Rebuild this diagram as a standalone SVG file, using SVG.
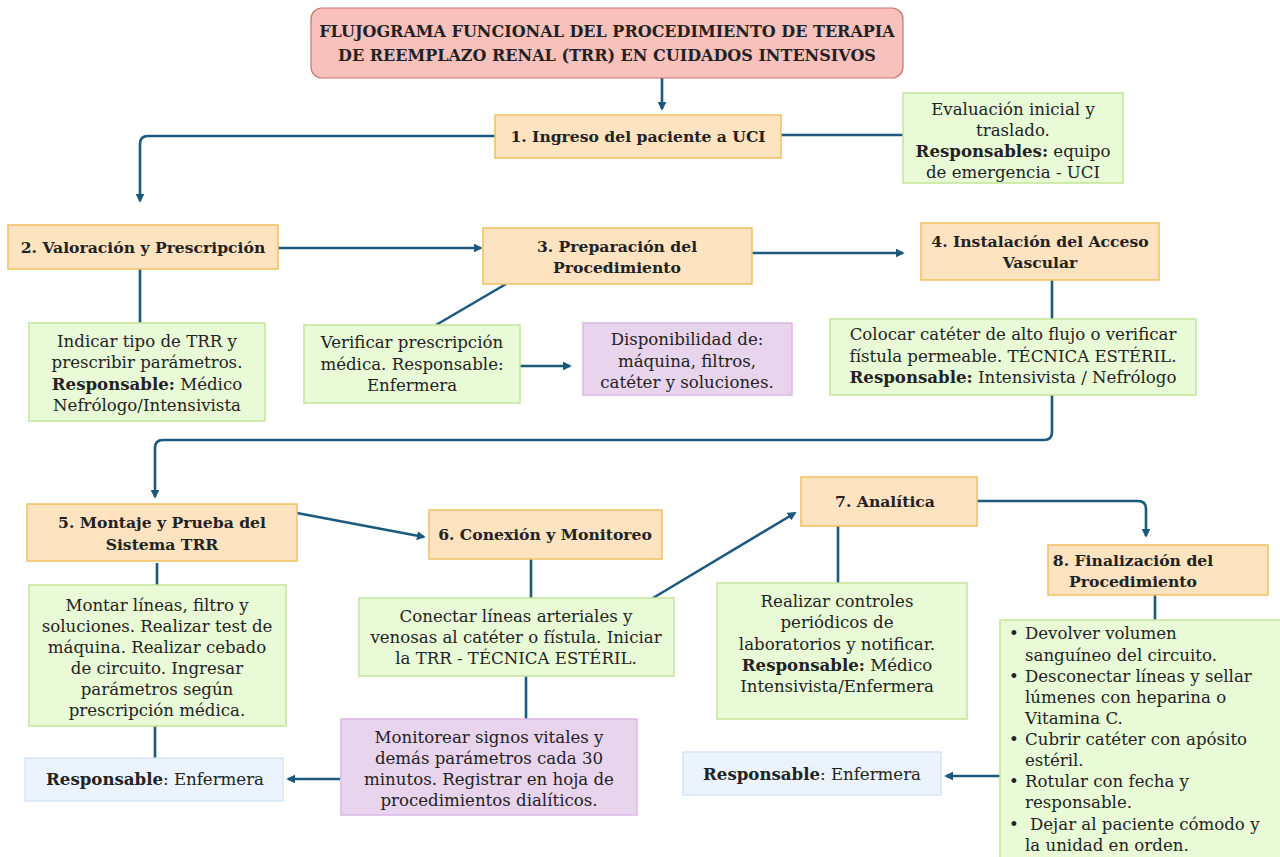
<svg xmlns="http://www.w3.org/2000/svg" width="1280" height="857" viewBox="0 0 1280 857">
  <defs>
    <marker id="arrow" viewBox="0 0 10 10" refX="8" refY="5" markerWidth="3.4" markerHeight="3.4" orient="auto">
      <path d="M0,0 L10,5 L0,10 z" fill="#1b5a7d"/>
    </marker>
    <style>
      text { font-family: "DejaVu Serif", "Liberation Serif", serif; fill: #222; }
      .h { font-size: 16px; font-weight: bold; text-anchor: middle; }
      .t { font-size: 15.6px; font-weight: bold; text-anchor: middle; }
      .b { font-size: 16.6px; text-anchor: middle; }
      .l { font-size: 16.6px; }
      .bold { font-weight: bold; }
      .title { fill: #f8c1bc; stroke: #c9736e; stroke-width: 1.2; }
      .step { fill: #fde3c0; stroke: #f0c060; stroke-width: 1.5; }
      .note { fill: #e9fbd6; stroke: #c3e59a; stroke-width: 1.5; }
      .purple { fill: #e8d4ec; stroke: #dcb8e6; stroke-width: 1.5; }
      .blue { fill: #ebf3fd; stroke: #cfe1f5; stroke-width: 1.2; }
      .conn path { fill: none; stroke: #1b5a7d; stroke-width: 2.6; }
      .conn path.a { marker-end: url(#arrow); }
    </style>
  </defs>
  <rect width="1280" height="857" fill="#ffffff"/>

  <!-- connectors -->
  <g class="conn">
    <path class="a" d="M662 78 V109"/>
    <path class="a" d="M495 136 H148 Q140 136 140 144 V201"/>
    <path d="M781 135 H903"/>
    <path class="a" d="M278 248 H481"/>
    <path d="M140 269 V323"/>
    <path d="M506 284 L436 325"/>
    <path class="a" d="M520 366 H570"/>
    <path class="a" d="M752 253 H903"/>
    <path d="M1052 280 V319"/>
    <path class="a" d="M1052 395 V432 Q1052 440 1044 440 H163 Q155 440 155 448 V497"/>
    <path class="a" d="M297 513 L424 537"/>
    <path d="M157 563 V585"/>
    <path d="M155 726 V758"/>
    <path d="M531 559 V598"/>
    <path class="a" d="M653 598 L795 513"/>
    <path d="M526 676 V719"/>
    <path class="a" d="M340 779 H288"/>
    <path d="M838 526 V583"/>
    <path class="a" d="M977 501 H1138 Q1146 501 1146 509 V536"/>
    <path d="M1155 595 V620"/>
    <path class="a" d="M1000 776 H946"/>
  </g>

  <!-- title -->
  <g id="title">
    <rect class="title" x="311" y="8" width="592" height="70" rx="11"/>
    <text class="h" x="607" y="37">FLUJOGRAMA FUNCIONAL DEL PROCEDIMIENTO DE TERAPIA</text>
    <text class="h" x="607" y="61">DE REEMPLAZO RENAL (TRR) EN CUIDADOS INTENSIVOS</text>
  </g>

  <!-- step 1 -->
  <g id="step1">
    <rect class="step" x="495" y="115" width="286" height="43"/>
    <text class="t" x="638" y="142">1. Ingreso del paciente a UCI</text>
  </g>
  <g id="note1">
    <rect class="note" x="903" y="93" width="220" height="90"/>
    <text class="b" x="1013" y="115">Evaluación inicial y</text>
    <text class="b" x="1013" y="136">traslado.</text>
    <text class="b" x="1013" y="157"><tspan class="bold">Responsables:</tspan> equipo</text>
    <text class="b" x="1013" y="178">de emergencia - UCI</text>
  </g>

  <!-- step 2 -->
  <g id="step2">
    <rect class="step" x="8" y="225" width="270" height="44"/>
    <text class="t" x="143" y="253">2. Valoración y Prescripción</text>
  </g>
  <g id="note2">
    <rect class="note" x="29" y="323" width="236" height="98"/>
    <text class="b" x="147" y="347">Indicar tipo de TRR y</text>
    <text class="b" x="147" y="368">prescribir parámetros.</text>
    <text class="b" x="147" y="390"><tspan class="bold">Responsable:</tspan> Médico</text>
    <text class="b" x="147" y="411">Nefrólogo/Intensivista</text>
  </g>

  <!-- step 3 -->
  <g id="step3">
    <rect class="step" x="483" y="228" width="269" height="56"/>
    <text class="t" x="617" y="252">3. Preparación del</text>
    <text class="t" x="617" y="273">Procedimiento</text>
  </g>
  <g id="note3">
    <rect class="note" x="304" y="325" width="216" height="78"/>
    <text class="b" x="412" y="348">Verificar prescripción</text>
    <text class="b" x="412" y="370">médica. Responsable:</text>
    <text class="b" x="412" y="391">Enfermera</text>
  </g>
  <g id="supply3">
    <rect class="purple" x="583" y="323" width="209" height="72"/>
    <text class="b" x="687" y="345">Disponibilidad de:</text>
    <text class="b" x="687" y="367">máquina, filtros,</text>
    <text class="b" x="687" y="388">catéter y soluciones.</text>
  </g>

  <!-- step 4 -->
  <g id="step4">
    <rect class="step" x="921" y="223" width="238" height="57"/>
    <text class="t" x="1040" y="247">4. Instalación del Acceso</text>
    <text class="t" x="1040" y="268">Vascular</text>
  </g>
  <g id="note4">
    <rect class="note" x="830" y="319" width="366" height="76"/>
    <text class="b" x="1013" y="340">Colocar catéter de alto flujo o verificar</text>
    <text class="b" x="1013" y="362">fístula permeable. TÉCNICA ESTÉRIL.</text>
    <text class="b" x="1013" y="383"><tspan class="bold">Responsable:</tspan> Intensivista / Nefrólogo</text>
  </g>

  <!-- step 5 -->
  <g id="step5">
    <rect class="step" x="27" y="504" width="270" height="57"/>
    <text class="t" x="162" y="528">5. Montaje y Prueba del</text>
    <text class="t" x="162" y="550">Sistema TRR</text>
  </g>
  <g id="note5">
    <rect class="note" x="29" y="585" width="257" height="141"/>
    <text class="b" x="157" y="611">Montar líneas, filtro y</text>
    <text class="b" x="157" y="632">soluciones. Realizar test de</text>
    <text class="b" x="157" y="653">máquina. Realizar cebado</text>
    <text class="b" x="157" y="674">de circuito. Ingresar</text>
    <text class="b" x="157" y="695">parámetros según</text>
    <text class="b" x="157" y="716">prescripción médica.</text>
  </g>
  <g id="resp5">
    <rect class="blue" x="25" y="758" width="258" height="43"/>
    <text class="b" x="155" y="785"><tspan class="bold">Responsable</tspan>: Enfermera</text>
  </g>

  <!-- step 6 -->
  <g id="step6">
    <rect class="step" x="429" y="510" width="233" height="49"/>
    <text class="t" x="545" y="540">6. Conexión y Monitoreo</text>
  </g>
  <g id="note6">
    <rect class="note" x="359" y="598" width="315" height="78"/>
    <text class="b" x="516" y="622">Conectar líneas arteriales y</text>
    <text class="b" x="516" y="643">venosas al catéter o fístula. Iniciar</text>
    <text class="b" x="516" y="664">la TRR - TÉCNICA ESTÉRIL.</text>
  </g>
  <g id="monitor6">
    <rect class="purple" x="341" y="719" width="296" height="96"/>
    <text class="b" x="489" y="743">Monitorear signos vitales y</text>
    <text class="b" x="489" y="764">demás parámetros cada 30</text>
    <text class="b" x="489" y="785">minutos. Registrar en hoja de</text>
    <text class="b" x="489" y="806">procedimientos dialíticos.</text>
  </g>

  <!-- step 7 -->
  <g id="step7">
    <rect class="step" x="801" y="477" width="176" height="49"/>
    <text class="t" x="885" y="507">7. Analítica</text>
  </g>
  <g id="note7">
    <rect class="note" x="717" y="583" width="250" height="136"/>
    <text class="b" x="837" y="607">Realizar controles</text>
    <text class="b" x="837" y="628">periódicos de</text>
    <text class="b" x="837" y="650">laboratorios y notificar.</text>
    <text class="b" x="837" y="671"><tspan class="bold">Responsable:</tspan> Médico</text>
    <text class="b" x="837" y="692">Intensivista/Enfermera</text>
  </g>

  <!-- step 8 -->
  <g id="step8">
    <rect class="step" x="1048" y="545" width="220" height="50"/>
    <text class="t" x="1133" y="566">8. Finalización del</text>
    <text class="t" x="1133" y="587">Procedimiento</text>
  </g>
  <g id="note8">
    <rect class="note" x="1000" y="620" width="290" height="250"/>
    <text class="l" x="1009" y="639">•</text>
    <text class="l" x="1025" y="639">Devolver volumen</text>
    <text class="l" x="1025" y="661">sanguíneo del circuito.</text>
    <text class="l" x="1009" y="682">•</text>
    <text class="l" x="1025" y="682">Desconectar líneas y sellar</text>
    <text class="l" x="1025" y="703">lúmenes con heparina o</text>
    <text class="l" x="1025" y="724">Vitamina C.</text>
    <text class="l" x="1009" y="745">•</text>
    <text class="l" x="1025" y="745">Cubrir catéter con apósito</text>
    <text class="l" x="1025" y="766">estéril.</text>
    <text class="l" x="1009" y="787">•</text>
    <text class="l" x="1025" y="787">Rotular con fecha y</text>
    <text class="l" x="1025" y="808">responsable.</text>
    <text class="l" x="1009" y="830">•</text>
    <text class="l" x="1030" y="830">Dejar al paciente cómodo y</text>
    <text class="l" x="1025" y="851">la unidad en orden.</text>
  </g>
  <g id="resp8">
    <rect class="blue" x="683" y="752" width="258" height="43"/>
    <text class="b" x="812" y="780"><tspan class="bold">Responsable</tspan>: Enfermera</text>
  </g>
</svg>
